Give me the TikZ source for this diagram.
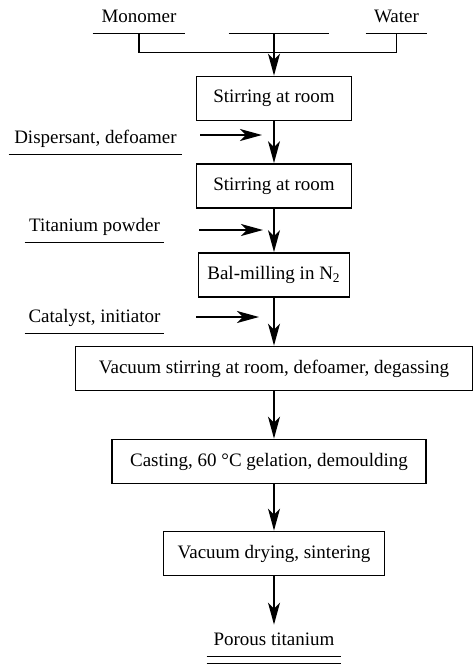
\documentclass[tikz,border=0pt]{standalone}
\usepackage{fontspec}
\setmainfont{Liberation Serif}
\usetikzlibrary{arrows.meta}

\begin{document}
\begin{tikzpicture}[x=0.5pt,y=-0.5pt,
    font=\fontsize{9.5}{11}\selectfont,
    stage/.style={draw,line width=0.9pt,minimum height=22pt,inner sep=2pt},
    feed/.style={anchor=base,inner xsep=0pt,inner ysep=3.5pt,text height=6.5pt,text depth=2pt},
    rule/.style={line width=0.9pt},
    flow/.style={line width=0.9pt,-{Stealth[length=11pt,width=6pt,inset=3pt]}}]
            \useasboundingbox (0,0) rectangle (473,666);
            \node[feed,minimum width=46pt] at (139,22) (mono) {Monomer};
            \node[feed,minimum width=50pt] at (279,22) (blank) {};
            \node[feed,minimum width=30.5pt] at (396.5,22) (water) {Water};
            \node[feed,minimum width=86.5pt] at (95.5,143) (disp) {Dispersant, defoamer};
            \node[feed,minimum width=69.5pt] at (94.5,231) (tita) {Titanium powder};
            \node[feed,minimum width=69.5pt] at (94.5,322) (cata) {Catalyst, initiator};
            \node[stage,minimum width=77.5pt] at (274,98.5) (s1) {Stirring at room};
            \node[stage,minimum width=77.5pt] at (274,186) (s2) {Stirring at room};
            \node[stage,minimum width=75.5pt] at (274,275) (s3) {Bal-milling in N\textsubscript{2}};
            \node[stage,minimum width=198.5pt] at (274,368.5) (s4) {Vacuum stirring at room, defoamer, degassing};
            \node[stage,minimum width=157pt] at (269,461.5) (s5) {Casting, 60 °C gelation, demoulding};
            \node[stage,minimum width=110.5pt] at (274,553.5) (s6) {Vacuum drying, sintering};
            \node[feed,minimum width=67pt] at (274,645) (porous) {Porous titanium};
            \draw[rule] (mono.south west) -- (mono.south east);
            \draw[rule] (blank.south west) -- (blank.south east);
            \draw[rule] (water.south west) -- (water.south east);
            \draw[rule] (disp.south west) -- (disp.south east);
            \draw[rule] (tita.south west) -- (tita.south east);
            \draw[rule] (cata.south west) -- (cata.south east);
            \draw[rule] (porous.south west) -- (porous.south east);
            \draw[rule] ([yshift=-3.5pt]porous.south west) -- ([yshift=-3.5pt]porous.south east);
            \draw[rule] (mono.south) -- ++(0,19) -| (water.south);
            \draw[flow] (s1.north |- blank.south) -- (s1.north);
            \coordinate (d1) at (200,135);
            \coordinate (d2) at (262,135);
            \coordinate (t1) at (199,230);
            \coordinate (t2) at (263,230);
            \coordinate (c1) at (196,317);
            \coordinate (c2) at (259,317);
            \draw[flow] (d1) -- (d2);
            \draw[flow] (t1) -- (t2);
            \draw[flow] (c1) -- (c2);
            \draw[flow] (s1) -- (s2);
            \draw[flow] (s2) -- (s3);
            \draw[flow] (s3) -- (s4);
            \draw[flow] (s4.south) -- (s4.south |- s5.north);
            \draw[flow] (s6.north |- s5.south) -- (s6.north);
            \draw[flow] (s6) -- (porous);
          \end{tikzpicture}
\end{document}
